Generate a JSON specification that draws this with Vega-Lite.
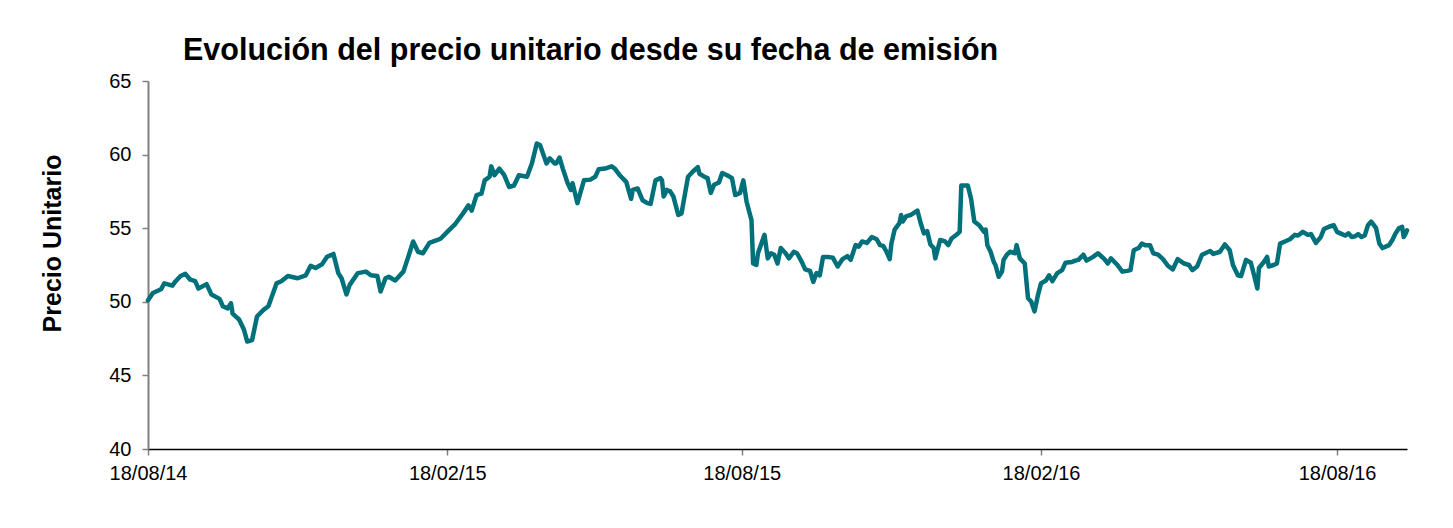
{
  "$schema": "https://vega.github.io/schema/vega-lite/v6.json",
  "width": 1259,
  "height": 368,
  "autosize": {"type": "none"},
  "padding": {"left": 148, "top": 81, "right": 46, "bottom": 79},
  "background": "white",
  "config": {"view": {"stroke": null}, "font": "Liberation Sans"},
  "title": {
    "text": "Evolución del precio unitario desde su fecha de emisión",
    "anchor": "start",
    "frame": "group",
    "dx": 35,
    "dy": 41,
    "offset": 22,
    "baseline": "alphabetic",
    "font": "Liberation Sans",
    "fontSize": 30.5,
    "fontWeight": "bold",
    "color": "#000000"
  },
  "data": {
    "values": [
      {"fecha": "2014-08-18", "precio": 50.1},
      {"fecha": "2014-08-21", "precio": 50.6},
      {"fecha": "2014-08-26", "precio": 50.85},
      {"fecha": "2014-08-28", "precio": 51.25},
      {"fecha": "2014-09-02", "precio": 51.1},
      {"fecha": "2014-09-04", "precio": 51.4},
      {"fecha": "2014-09-07", "precio": 51.75},
      {"fecha": "2014-09-10", "precio": 51.9},
      {"fecha": "2014-09-13", "precio": 51.5},
      {"fecha": "2014-09-16", "precio": 51.4},
      {"fecha": "2014-09-18", "precio": 50.9},
      {"fecha": "2014-09-23", "precio": 51.2},
      {"fecha": "2014-09-26", "precio": 50.5},
      {"fecha": "2014-10-01", "precio": 50.2},
      {"fecha": "2014-10-03", "precio": 49.7},
      {"fecha": "2014-10-06", "precio": 49.55},
      {"fecha": "2014-10-08", "precio": 49.9},
      {"fecha": "2014-10-09", "precio": 49.2},
      {"fecha": "2014-10-13", "precio": 48.8},
      {"fecha": "2014-10-16", "precio": 48.1},
      {"fecha": "2014-10-18", "precio": 47.3},
      {"fecha": "2014-10-21", "precio": 47.4},
      {"fecha": "2014-10-24", "precio": 49.0},
      {"fecha": "2014-10-28", "precio": 49.45},
      {"fecha": "2014-10-31", "precio": 49.7},
      {"fecha": "2014-11-05", "precio": 51.25},
      {"fecha": "2014-11-08", "precio": 51.4},
      {"fecha": "2014-11-12", "precio": 51.75},
      {"fecha": "2014-11-18", "precio": 51.6},
      {"fecha": "2014-11-23", "precio": 51.8},
      {"fecha": "2014-11-26", "precio": 52.45},
      {"fecha": "2014-11-29", "precio": 52.3},
      {"fecha": "2014-12-03", "precio": 52.55},
      {"fecha": "2014-12-06", "precio": 53.05},
      {"fecha": "2014-12-10", "precio": 53.25},
      {"fecha": "2014-12-13", "precio": 51.95},
      {"fecha": "2014-12-15", "precio": 51.6},
      {"fecha": "2014-12-18", "precio": 50.5},
      {"fecha": "2014-12-20", "precio": 51.15},
      {"fecha": "2014-12-25", "precio": 51.95},
      {"fecha": "2014-12-30", "precio": 52.05},
      {"fecha": "2015-01-02", "precio": 51.8},
      {"fecha": "2015-01-06", "precio": 51.75},
      {"fecha": "2015-01-08", "precio": 50.7},
      {"fecha": "2015-01-11", "precio": 51.6},
      {"fecha": "2015-01-13", "precio": 51.7},
      {"fecha": "2015-01-17", "precio": 51.45},
      {"fecha": "2015-01-22", "precio": 52.05},
      {"fecha": "2015-01-25", "precio": 53.05},
      {"fecha": "2015-01-28", "precio": 54.1},
      {"fecha": "2015-01-31", "precio": 53.4},
      {"fecha": "2015-02-03", "precio": 53.3},
      {"fecha": "2015-02-07", "precio": 54.0},
      {"fecha": "2015-02-12", "precio": 54.2},
      {"fecha": "2015-02-14", "precio": 54.3},
      {"fecha": "2015-02-18", "precio": 54.75},
      {"fecha": "2015-02-23", "precio": 55.3},
      {"fecha": "2015-02-27", "precio": 55.9},
      {"fecha": "2015-03-03", "precio": 56.55},
      {"fecha": "2015-03-05", "precio": 56.2},
      {"fecha": "2015-03-08", "precio": 57.25},
      {"fecha": "2015-03-11", "precio": 57.35},
      {"fecha": "2015-03-13", "precio": 58.25},
      {"fecha": "2015-03-16", "precio": 58.5},
      {"fecha": "2015-03-17", "precio": 59.2},
      {"fecha": "2015-03-19", "precio": 58.6},
      {"fecha": "2015-03-22", "precio": 59.05},
      {"fecha": "2015-03-25", "precio": 58.6},
      {"fecha": "2015-03-28", "precio": 57.8},
      {"fecha": "2015-03-31", "precio": 57.9},
      {"fecha": "2015-04-03", "precio": 58.6},
      {"fecha": "2015-04-08", "precio": 58.5},
      {"fecha": "2015-04-11", "precio": 59.4},
      {"fecha": "2015-04-14", "precio": 60.75},
      {"fecha": "2015-04-16", "precio": 60.65},
      {"fecha": "2015-04-20", "precio": 59.4},
      {"fecha": "2015-04-22", "precio": 59.75},
      {"fecha": "2015-04-25", "precio": 59.4},
      {"fecha": "2015-04-26", "precio": 59.4},
      {"fecha": "2015-04-28", "precio": 59.8},
      {"fecha": "2015-04-30", "precio": 59.05},
      {"fecha": "2015-05-03", "precio": 58.05},
      {"fecha": "2015-05-05", "precio": 57.6},
      {"fecha": "2015-05-06", "precio": 58.05},
      {"fecha": "2015-05-09", "precio": 56.7},
      {"fecha": "2015-05-13", "precio": 58.25},
      {"fecha": "2015-05-17", "precio": 58.3},
      {"fecha": "2015-05-20", "precio": 58.5},
      {"fecha": "2015-05-22", "precio": 59.0},
      {"fecha": "2015-05-26", "precio": 59.05},
      {"fecha": "2015-05-30", "precio": 59.2},
      {"fecha": "2015-06-01", "precio": 59.05},
      {"fecha": "2015-06-04", "precio": 58.6},
      {"fecha": "2015-06-08", "precio": 58.15},
      {"fecha": "2015-06-11", "precio": 57.0},
      {"fecha": "2015-06-12", "precio": 57.6},
      {"fecha": "2015-06-15", "precio": 57.7},
      {"fecha": "2015-06-18", "precio": 56.9},
      {"fecha": "2015-06-21", "precio": 56.7},
      {"fecha": "2015-06-23", "precio": 56.65},
      {"fecha": "2015-06-26", "precio": 58.25},
      {"fecha": "2015-06-29", "precio": 58.4},
      {"fecha": "2015-06-30", "precio": 58.25},
      {"fecha": "2015-07-01", "precio": 57.15},
      {"fecha": "2015-07-03", "precio": 57.6},
      {"fecha": "2015-07-05", "precio": 57.5},
      {"fecha": "2015-07-07", "precio": 57.15},
      {"fecha": "2015-07-10", "precio": 55.9},
      {"fecha": "2015-07-12", "precio": 56.0},
      {"fecha": "2015-07-16", "precio": 58.5},
      {"fecha": "2015-07-19", "precio": 58.85},
      {"fecha": "2015-07-22", "precio": 59.15},
      {"fecha": "2015-07-23", "precio": 58.7},
      {"fecha": "2015-07-26", "precio": 58.5},
      {"fecha": "2015-07-28", "precio": 58.4},
      {"fecha": "2015-07-30", "precio": 57.4},
      {"fecha": "2015-08-01", "precio": 57.95},
      {"fecha": "2015-08-04", "precio": 58.1},
      {"fecha": "2015-08-06", "precio": 58.75},
      {"fecha": "2015-08-09", "precio": 58.6},
      {"fecha": "2015-08-12", "precio": 58.4},
      {"fecha": "2015-08-14", "precio": 57.25},
      {"fecha": "2015-08-17", "precio": 57.4},
      {"fecha": "2015-08-19", "precio": 58.25},
      {"fecha": "2015-08-21", "precio": 56.8},
      {"fecha": "2015-08-24", "precio": 55.55},
      {"fecha": "2015-08-25", "precio": 52.6},
      {"fecha": "2015-08-27", "precio": 52.5},
      {"fecha": "2015-08-28", "precio": 53.3},
      {"fecha": "2015-09-01", "precio": 54.55},
      {"fecha": "2015-09-03", "precio": 52.95},
      {"fecha": "2015-09-05", "precio": 53.3},
      {"fecha": "2015-09-07", "precio": 53.2},
      {"fecha": "2015-09-09", "precio": 52.6},
      {"fecha": "2015-09-11", "precio": 53.65},
      {"fecha": "2015-09-14", "precio": 53.3},
      {"fecha": "2015-09-16", "precio": 52.95},
      {"fecha": "2015-09-19", "precio": 53.4},
      {"fecha": "2015-09-21", "precio": 53.3},
      {"fecha": "2015-09-24", "precio": 52.7},
      {"fecha": "2015-09-26", "precio": 52.2},
      {"fecha": "2015-09-29", "precio": 52.1},
      {"fecha": "2015-10-01", "precio": 51.35},
      {"fecha": "2015-10-03", "precio": 51.95},
      {"fecha": "2015-10-05", "precio": 51.8},
      {"fecha": "2015-10-07", "precio": 53.05},
      {"fecha": "2015-10-10", "precio": 53.05},
      {"fecha": "2015-10-13", "precio": 53.0},
      {"fecha": "2015-10-16", "precio": 52.4},
      {"fecha": "2015-10-19", "precio": 52.9},
      {"fecha": "2015-10-22", "precio": 53.1},
      {"fecha": "2015-10-24", "precio": 52.85},
      {"fecha": "2015-10-27", "precio": 53.85},
      {"fecha": "2015-10-29", "precio": 53.75},
      {"fecha": "2015-10-31", "precio": 54.1},
      {"fecha": "2015-11-03", "precio": 54.0},
      {"fecha": "2015-11-06", "precio": 54.4},
      {"fecha": "2015-11-09", "precio": 54.25},
      {"fecha": "2015-11-11", "precio": 53.85},
      {"fecha": "2015-11-13", "precio": 53.8},
      {"fecha": "2015-11-15", "precio": 53.4},
      {"fecha": "2015-11-17", "precio": 52.9},
      {"fecha": "2015-11-18", "precio": 53.95},
      {"fecha": "2015-11-20", "precio": 54.9},
      {"fecha": "2015-11-23", "precio": 55.35},
      {"fecha": "2015-11-24", "precio": 55.9},
      {"fecha": "2015-11-25", "precio": 55.45},
      {"fecha": "2015-11-27", "precio": 55.8},
      {"fecha": "2015-11-30", "precio": 55.9},
      {"fecha": "2015-12-04", "precio": 56.2},
      {"fecha": "2015-12-06", "precio": 55.35},
      {"fecha": "2015-12-08", "precio": 54.65},
      {"fecha": "2015-12-10", "precio": 54.8},
      {"fecha": "2015-12-12", "precio": 53.9},
      {"fecha": "2015-12-14", "precio": 53.65},
      {"fecha": "2015-12-15", "precio": 52.95},
      {"fecha": "2015-12-18", "precio": 54.2},
      {"fecha": "2015-12-21", "precio": 54.1},
      {"fecha": "2015-12-23", "precio": 53.85},
      {"fecha": "2015-12-25", "precio": 54.3},
      {"fecha": "2015-12-28", "precio": 54.55},
      {"fecha": "2015-12-30", "precio": 54.75},
      {"fecha": "2015-12-31", "precio": 57.9},
      {"fecha": "2016-01-04", "precio": 57.9},
      {"fecha": "2016-01-06", "precio": 57.0},
      {"fecha": "2016-01-08", "precio": 55.45},
      {"fecha": "2016-01-11", "precio": 55.2},
      {"fecha": "2016-01-14", "precio": 54.75},
      {"fecha": "2016-01-15", "precio": 54.9},
      {"fecha": "2016-01-16", "precio": 53.85},
      {"fecha": "2016-01-18", "precio": 53.4},
      {"fecha": "2016-01-20", "precio": 52.7},
      {"fecha": "2016-01-21", "precio": 52.5},
      {"fecha": "2016-01-23", "precio": 51.7},
      {"fecha": "2016-01-25", "precio": 52.05},
      {"fecha": "2016-01-26", "precio": 52.85},
      {"fecha": "2016-01-28", "precio": 53.2},
      {"fecha": "2016-01-30", "precio": 53.4},
      {"fecha": "2016-02-02", "precio": 53.3},
      {"fecha": "2016-02-03", "precio": 53.85},
      {"fecha": "2016-02-05", "precio": 52.95},
      {"fecha": "2016-02-08", "precio": 52.6},
      {"fecha": "2016-02-10", "precio": 50.25},
      {"fecha": "2016-02-12", "precio": 50.0},
      {"fecha": "2016-02-14", "precio": 49.35},
      {"fecha": "2016-02-16", "precio": 50.4},
      {"fecha": "2016-02-18", "precio": 51.25},
      {"fecha": "2016-02-21", "precio": 51.45},
      {"fecha": "2016-02-23", "precio": 51.8},
      {"fecha": "2016-02-25", "precio": 51.4},
      {"fecha": "2016-02-28", "precio": 51.95},
      {"fecha": "2016-03-02", "precio": 52.15},
      {"fecha": "2016-03-04", "precio": 52.65},
      {"fecha": "2016-03-08", "precio": 52.7},
      {"fecha": "2016-03-10", "precio": 52.8},
      {"fecha": "2016-03-12", "precio": 52.85},
      {"fecha": "2016-03-15", "precio": 53.2},
      {"fecha": "2016-03-17", "precio": 52.8},
      {"fecha": "2016-03-21", "precio": 53.05},
      {"fecha": "2016-03-24", "precio": 53.3},
      {"fecha": "2016-03-28", "precio": 52.9},
      {"fecha": "2016-03-30", "precio": 52.6},
      {"fecha": "2016-04-01", "precio": 52.95},
      {"fecha": "2016-04-05", "precio": 52.5},
      {"fecha": "2016-04-08", "precio": 52.05},
      {"fecha": "2016-04-11", "precio": 52.1},
      {"fecha": "2016-04-13", "precio": 52.15},
      {"fecha": "2016-04-15", "precio": 53.5},
      {"fecha": "2016-04-18", "precio": 53.65},
      {"fecha": "2016-04-20", "precio": 53.95},
      {"fecha": "2016-04-22", "precio": 53.85},
      {"fecha": "2016-04-25", "precio": 53.85},
      {"fecha": "2016-04-27", "precio": 53.3},
      {"fecha": "2016-04-30", "precio": 53.2},
      {"fecha": "2016-05-03", "precio": 52.9},
      {"fecha": "2016-05-06", "precio": 52.45},
      {"fecha": "2016-05-09", "precio": 52.2},
      {"fecha": "2016-05-12", "precio": 52.9},
      {"fecha": "2016-05-16", "precio": 52.6},
      {"fecha": "2016-05-19", "precio": 52.5},
      {"fecha": "2016-05-21", "precio": 52.15},
      {"fecha": "2016-05-24", "precio": 52.4},
      {"fecha": "2016-05-27", "precio": 53.2},
      {"fecha": "2016-06-01", "precio": 53.45},
      {"fecha": "2016-06-03", "precio": 53.25},
      {"fecha": "2016-06-07", "precio": 53.4},
      {"fecha": "2016-06-10", "precio": 53.9},
      {"fecha": "2016-06-13", "precio": 53.5},
      {"fecha": "2016-06-15", "precio": 52.5},
      {"fecha": "2016-06-18", "precio": 51.8},
      {"fecha": "2016-06-20", "precio": 51.75},
      {"fecha": "2016-06-23", "precio": 52.85},
      {"fecha": "2016-06-26", "precio": 52.65},
      {"fecha": "2016-06-28", "precio": 51.8},
      {"fecha": "2016-06-30", "precio": 50.9},
      {"fecha": "2016-07-01", "precio": 52.3},
      {"fecha": "2016-07-04", "precio": 52.7},
      {"fecha": "2016-07-06", "precio": 53.05},
      {"fecha": "2016-07-07", "precio": 52.4},
      {"fecha": "2016-07-10", "precio": 52.5},
      {"fecha": "2016-07-12", "precio": 52.6},
      {"fecha": "2016-07-14", "precio": 53.95},
      {"fecha": "2016-07-18", "precio": 54.15},
      {"fecha": "2016-07-20", "precio": 54.25},
      {"fecha": "2016-07-23", "precio": 54.55},
      {"fecha": "2016-07-25", "precio": 54.5},
      {"fecha": "2016-07-28", "precio": 54.75},
      {"fecha": "2016-07-31", "precio": 54.55},
      {"fecha": "2016-08-02", "precio": 54.6},
      {"fecha": "2016-08-05", "precio": 54.0},
      {"fecha": "2016-08-08", "precio": 54.4},
      {"fecha": "2016-08-10", "precio": 54.95},
      {"fecha": "2016-08-13", "precio": 55.1},
      {"fecha": "2016-08-16", "precio": 55.2},
      {"fecha": "2016-08-18", "precio": 54.75},
      {"fecha": "2016-08-21", "precio": 54.6},
      {"fecha": "2016-08-23", "precio": 54.5},
      {"fecha": "2016-08-25", "precio": 54.65},
      {"fecha": "2016-08-27", "precio": 54.4},
      {"fecha": "2016-08-29", "precio": 54.45},
      {"fecha": "2016-08-31", "precio": 54.6},
      {"fecha": "2016-09-02", "precio": 54.4},
      {"fecha": "2016-09-04", "precio": 54.5},
      {"fecha": "2016-09-06", "precio": 55.2},
      {"fecha": "2016-09-08", "precio": 55.45},
      {"fecha": "2016-09-11", "precio": 55.0},
      {"fecha": "2016-09-13", "precio": 53.95},
      {"fecha": "2016-09-15", "precio": 53.65},
      {"fecha": "2016-09-19", "precio": 53.85},
      {"fecha": "2016-09-21", "precio": 54.2},
      {"fecha": "2016-09-23", "precio": 54.65},
      {"fecha": "2016-09-25", "precio": 55.0},
      {"fecha": "2016-09-27", "precio": 55.1},
      {"fecha": "2016-09-28", "precio": 54.4},
      {"fecha": "2016-09-29", "precio": 54.6},
      {"fecha": "2016-09-30", "precio": 54.85}
    ]
  },
  "mark": {"type": "line", "color": "#00707A", "strokeWidth": 4.5, "strokeJoin": "round", "strokeCap": "round", "clip": false},
  "encoding": {
    "x": {
      "field": "fecha",
      "type": "temporal",
      "title": null,
      "scale": {
        "type": "utc",
        "domain": [
          {"year": 2014, "month": 8, "date": 18, "utc": true},
          {"year": 2016, "month": 9, "date": 30, "utc": true}
        ]
      },
      "axis": {
        "values": [
          {"year": 2014, "month": 8, "date": 18, "utc": true},
          {"year": 2015, "month": 2, "date": 18, "utc": true},
          {"year": 2015, "month": 8, "date": 18, "utc": true},
          {"year": 2016, "month": 2, "date": 18, "utc": true},
          {"year": 2016, "month": 8, "date": 18, "utc": true}
        ],
        "format": "%d/%m/%y",
        "grid": false,
        "domainColor": "#000000",
        "domainWidth": 1.5,
        "tickColor": "#808080",
        "tickSize": 6,
        "tickWidth": 1.5,
        "labelFont": "Liberation Sans",
        "labelFontSize": 20,
        "labelColor": "#000000",
        "labelPadding": 8,
        "labelFlush": false,
        "labelOverlap": false
      }
    },
    "y": {
      "field": "precio",
      "type": "quantitative",
      "scale": {"domain": [40, 65], "nice": false, "zero": false},
      "axis": {
        "values": [40, 45, 50, 55, 60, 65],
        "title": "Precio Unitario",
        "titleFont": "Liberation Sans",
        "titleFontSize": 25,
        "titleFontWeight": "bold",
        "titleColor": "#000000",
        "titleX": -88,
        "titleY": 162,
        "titleAngle": -90,
        "titleAlign": "center",
        "titleBaseline": "alphabetic",
        "grid": false,
        "domainColor": "#808080",
        "domainWidth": 2,
        "tickColor": "#808080",
        "tickSize": 6,
        "tickWidth": 1.5,
        "labelFont": "Liberation Sans",
        "labelFontSize": 20,
        "labelColor": "#000000",
        "labelPadding": 11
      }
    }
  }
}
